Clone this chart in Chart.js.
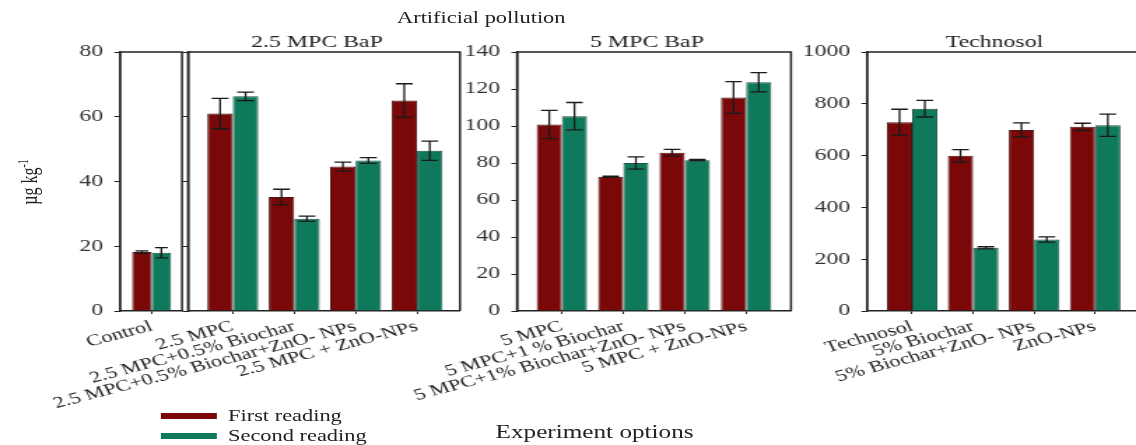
<!DOCTYPE html>
<html>
<head>
<meta charset="utf-8">
<script src="https://cdn.jsdelivr.net/npm/chart.js@4"></script>
<style>
  html, body { margin: 0; padding: 0; background: #fff; overflow: hidden; }
  #wrap { position: absolute; left: 0; top: 0; width: 812px; height: 445px;
          transform: scaleX(1.39901); transform-origin: 0 0;
          font-family: 'Liberation Serif', 'Times New Roman', serif; color: #222; }
  #wrap canvas { position: absolute; left: 0; top: 0; }
  .txt { position: absolute; white-space: nowrap; }
  .sw { position: absolute; left: 115px; width: 40px; height: 6px; }
</style>
</head>
<body>
<div id="wrap">
  <div class="txt" style="left:344px;top:10px;font-size:16px;line-height:16px;transform:translateX(-50%)">Artificial pollution</div>
  <div class="txt" style="left:425px;top:423px;font-size:18px;line-height:18px;transform:translateX(-50%)">Experiment options</div>
  <div class="txt" style="left:21px;top:182px;font-size:16px;transform:translate(-50%,-50%) rotate(-90deg)">µg kg<sup style="font-size:10px">-1</sup></div>
  <div id="legend"></div>
</div>
<script>
// series
const seriesNames = ['First reading', 'Second reading'];
const seriesColors = ['#7a0808', '#0f7a5b'];

// Control
const controlLabels = ['Control'];
const controlFirst = [18.2];
const controlFirstErr = [0.4];
const controlSecond = [18.0];
const controlSecondErr = [1.6];

// 2.5 MPC BaP
const mpc25Labels = ['2.5 MPC', '2.5 MPC+0.5% Biochar', '2.5 MPC+0.5% Biochar+ZnO- NPs', '2.5 MPC + ZnO-NPs'];
const mpc25First = [61.0, 35.2, 44.6, 65.0];
const mpc25FirstErr = [4.7, 2.4, 1.4, 5.2];
const mpc25Second = [66.3, 28.5, 46.5, 49.5];
const mpc25SecondErr = [1.3, 0.8, 0.9, 3.0];

// 5 MPC BaP
const mpc5Labels = ['5 MPC', '5 MPC+1 % Biochar', '5 MPC+1% Biochar+ZnO- NPs', '5 MPC + ZnO-NPs'];
const mpc5First = [100.8, 72.6, 85.6, 115.4];
const mpc5FirstErr = [7.6, 0.3, 1.8, 8.6];
const mpc5Second = [105.3, 80.0, 81.5, 123.6];
const mpc5SecondErr = [7.4, 3.3, 0.4, 5.2];

// Technosol
const technoLabels = ['Technosol', '5% Biochar', '5% Biochar+ZnO- NPs', 'ZnO-NPs'];
const technoFirst = [729, 599, 699, 711];
const technoFirstErr = [50, 24, 27, 14];
const technoSecond = [781, 244, 276, 717];
const technoSecondErr = [32, 4, 10, 43];

// y axes
const yMaxes = [80, 80, 140, 1000];
const ySteps = [20, 20, 20, 200];

const SX = 1136 / 812;
const W = 812, H = 445;
const TOP = 52, BOTTOM = 311, YAXIS_W = 50, XAXIS_H = 100;
const FONT = "'Liberation Serif', 'Times New Roman', serif";
const INK = '#222';

Chart.defaults.font.family = FONT;

// legend
const leg = document.getElementById('legend');
seriesNames.forEach((name, i) => {
  const sw = document.createElement('div');
  sw.className = 'sw';
  sw.style.top = (413 + i * 20) + 'px';
  sw.style.background = seriesColors[i];
  leg.appendChild(sw);
  const t = document.createElement('div');
  t.className = 'txt';
  t.style.cssText = `left:163px;top:${408 + i * 20}px;font-size:16px;line-height:16px`;
  t.textContent = name;
  leg.appendChild(t);
});

const framePlugin = {
  id: 'frame',
  afterDraw(chart, args, opts) {
    const { ctx, chartArea: a } = chart;
    ctx.save();
    ctx.strokeStyle = INK;
    ctx.lineWidth = 1.5;
    ctx.beginPath();
    ctx.moveTo(a.left, a.bottom);
    ctx.lineTo(a.left, a.top);
    ctx.lineTo(a.right, a.top);
    if (opts.right) ctx.lineTo(a.right, a.bottom);
    ctx.stroke();
    ctx.fillStyle = INK;
    ctx.font = `17px ${FONT}`;
    ctx.textAlign = 'center';
    ctx.textBaseline = 'alphabetic';
    if (opts.title) ctx.fillText(opts.title, (a.left + a.right) / 2 + opts.shift, a.top - 5);
    ctx.restore();
  }
};

const errorBarPlugin = {
  id: 'errorBars',
  afterDatasetsDraw(chart) {
    const { ctx } = chart;
    const y = chart.scales.y;
    ctx.save();
    ctx.strokeStyle = '#1a1a1a';
    ctx.lineWidth = 1.3;
    chart.data.datasets.forEach((ds, di) => {
      chart.getDatasetMeta(di).data.forEach((bar, i) => {
        const v = ds.data[i].y, e = ds.errors[i];
        const top = y.getPixelForValue(v + e), bot = y.getPixelForValue(v - e);
        const half = bar.width * 0.33;
        ctx.beginPath();
        ctx.moveTo(bar.x, top); ctx.lineTo(bar.x, bot);
        ctx.moveTo(bar.x - half, top); ctx.lineTo(bar.x + half, top);
        ctx.moveTo(bar.x - half, bot); ctx.lineTo(bar.x + half, bot);
        ctx.stroke();
      });
    });
    ctx.restore();
  }
};

function makePanel(p) {
  const canvas = document.createElement('canvas');
  canvas.width = W; canvas.height = H;
  document.getElementById('wrap').appendChild(canvas);
  const left = p.left / SX, right = p.right / SX;
  const series = [[p.first, p.firstErr], [p.second, p.secondErr]];
  new Chart(canvas, {
    type: 'bar',
    data: {
      datasets: series.map(([vals, errs], k) => ({
        label: seriesNames[k],
        data: vals.map((v, i) => ({ x: i, y: v })),
        errors: errs,
        backgroundColor: seriesColors[k],
        borderColor: k === 0 ? '#4a1212' : '#1e5243',
        borderWidth: 1,
        categoryPercentage: p.catPct,
        barPercentage: 1
      }))
    },
    options: {
      responsive: false,
      animation: false,
      devicePixelRatio: 1,
      layout: { padding: { left: left - YAXIS_W, right: W - right, top: TOP, bottom: H - BOTTOM - XAXIS_H } },
      plugins: {
        legend: { display: false },
        tooltip: { enabled: false },
        frame: { title: p.title, shift: -5, right: p.rightLine }
      },
      scales: {
        x: {
          type: 'linear', min: p.xMin, max: p.xMax, offset: false,
          afterFit: s => { s.height = XAXIS_H; },
          grid: { offset: false, drawOnChartArea: false, tickLength: 3, color: INK },
          border: { color: INK, width: 1.5 },
          ticks: {
            stepSize: 1, includeBounds: false, autoSkip: false,
            minRotation: 20, maxRotation: 20, padding: 3,
            color: INK, font: { family: FONT, size: 16 },
            callback: v => p.labels[Math.round(v)] ?? ''
          }
        },
        y: {
          min: 0, max: p.yMax,
          afterFit: s => { s.width = YAXIS_W; },
          grid: { drawOnChartArea: false, tickLength: 4, color: INK },
          border: { color: INK, width: 1.5 },
          ticks: { stepSize: p.yStep, display: p.showY, padding: 8, color: '#333',
            font: { family: FONT, size: 17 }, callback: v => String(v) }
        }
      }
    },
    plugins: [framePlugin, errorBarPlugin]
  });
}

makePanel({ labels: controlLabels, first: controlFirst, firstErr: controlFirstErr, second: controlSecond, secondErr: controlSecondErr,
  left: 120, right: 182, xMin: -0.52, xMax: 0.5, yMax: yMaxes[0], yStep: ySteps[0], showY: true, title: '', rightLine: true, catPct: 0.63 });
makePanel({ labels: mpc25Labels, first: mpc25First, firstErr: mpc25FirstErr, second: mpc25Second, secondErr: mpc25SecondErr,
  left: 188, right: 460, xMin: -0.73, xMax: 3.7, yMax: yMaxes[1], yStep: ySteps[1], showY: false, title: '2.5 MPC BaP', rightLine: true, catPct: 0.83 });
makePanel({ labels: mpc5Labels, first: mpc5First, firstErr: mpc5FirstErr, second: mpc5Second, secondErr: mpc5SecondErr,
  left: 517, right: 791, xMin: -0.73, xMax: 3.73, yMax: yMaxes[2], yStep: ySteps[2], showY: true, title: '5 MPC BaP', rightLine: true, catPct: 0.82 });
makePanel({ labels: technoLabels, first: technoFirst, firstErr: technoFirstErr, second: technoSecond, secondErr: technoSecondErr,
  left: 867, right: 1136, xMin: -0.74, xMax: 3.67, yMax: yMaxes[3], yStep: ySteps[3], showY: true, title: 'Technosol', rightLine: false, catPct: 0.83 });
</script>
</body>
</html>
